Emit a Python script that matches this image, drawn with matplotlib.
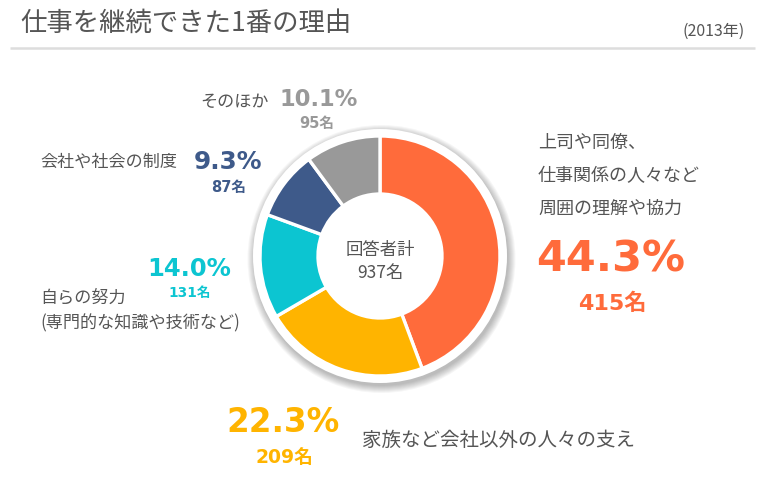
import matplotlib
matplotlib.use("Agg")
import matplotlib.pyplot as plt
from matplotlib.patches import Circle

# ---- data ----
categories = ["上司や同僚、\n仕事関係の人々など\n周囲の理解や協力",
              "家族など会社以外の人々の支え",
              "自らの努力\n(専門的な知識や技術など)",
              "会社や社会の制度",
              "そのほか"]
percents = [44.3, 22.3, 14.0, 9.3, 10.1]
counts = [415, 209, 131, 87, 95]
total = 937
title = "仕事を継続できた1番の理由"
year_label = "(2013年)"
center_label = "回答者計"

colors = ["#FF6B3B", "#FFB400", "#0CC5D1", "#3E5A8A", "#999999"]

W, H = 764, 481
fig = plt.figure(figsize=(W / 100, H / 100), dpi=100)
ax = fig.add_axes([0, 0, 1, 1])
ax.set_xlim(0, W)
ax.set_ylim(0, H)
ax.set_aspect("equal")
ax.axis("off")

def Y(y):
    return H - y

JP = ["Noto Sans CJK JP", "DejaVu Sans"]
NUM = ["DejaVu Sans", "Noto Sans CJK JP"]
TXT = "#555555"

# title and rule
ax.text(20, Y(23), title, fontsize=19, color=TXT, family=JP, va="center", ha="left")
ax.text(745, Y(31), year_label, fontsize=11.5, color=TXT, family=JP, va="center", ha="right")
ax.plot([10, 755], [Y(49), Y(49)], color="#DDDDDD", lw=1.8, solid_capstyle="butt")

# donut
cx, cy = 380, Y(257)
for i in range(8):
    ax.add_patch(Circle((cx + 1.5, cy - 3), 127 + i, facecolor="#000000",
                        alpha=0.035, edgecolor="none", zorder=1))
ax.add_patch(Circle((cx, cy), 127, facecolor="white", edgecolor="none", zorder=2))
wedges, _ = ax.pie(percents, colors=colors, startangle=90, counterclock=False,
                   radius=120, center=(cx, cy), frame=True,
                   wedgeprops=dict(width=58, edgecolor="white", linewidth=2.4))
for w in wedges:
    w.set_zorder(3)
ax.set_xlim(0, W)
ax.set_ylim(0, H)
ax.axis("off")

ax.text(cx, Y(250), center_label, fontsize=12.5, color=TXT, family=JP, ha="center", va="center", zorder=5)
ax.text(cx, Y(273), f"{total}名", fontsize=12.5, color=TXT, family=JP, ha="center", va="center", zorder=5)

# ---- labels ----
# 0: right (orange)
for k, line in enumerate(categories[0].split("\n")):
    ax.text(538, Y(143 + 33 * k), line, fontsize=13, color=TXT, family=JP, ha="left", va="center")
ax.text(536, Y(260), f"{percents[0]:.1f}%", fontsize=31, fontweight="bold", color=colors[0],
        family=NUM, ha="left", va="center")
ax.text(612, Y(303), f"{counts[0]}名", fontsize=16, fontweight="bold", color=colors[0],
        family=NUM, ha="center", va="center")

# 1: bottom (yellow)
ax.text(226, Y(423), f"{percents[1]:.1f}%", fontsize=23.5, fontweight="bold", color=colors[1],
        family=NUM, ha="left", va="center")
ax.text(284, Y(457), f"{counts[1]}名", fontsize=13.5, fontweight="bold", color=colors[1],
        family=NUM, ha="center", va="center")
ax.text(362, Y(440), categories[1], fontsize=14, color=TXT, family=JP, ha="left", va="center")

# 2: left (cyan)
l2 = categories[2].split("\n")
ax.text(40, Y(297), l2[0], fontsize=12.3, color=TXT, family=JP, ha="left", va="center")
ax.text(40, Y(323), l2[1], fontsize=12.3, color=TXT, family=JP, ha="left", va="center")
ax.text(147, Y(269), f"{percents[2]:.1f}%", fontsize=17.5, fontweight="bold", color=colors[2],
        family=NUM, ha="left", va="center")
ax.text(190, Y(293), f"{counts[2]}名", fontsize=9.8, fontweight="bold", color=colors[2],
        family=NUM, ha="center", va="center")

# 3: navy
ax.text(40, Y(162), categories[3], fontsize=12.3, color=TXT, family=JP, ha="left", va="center")
ax.text(194, Y(162), f"{percents[3]:.1f}%", fontsize=17.8, fontweight="bold", color=colors[3],
        family=NUM, ha="left", va="center")
ax.text(229, Y(187), f"{counts[3]}名", fontsize=10.5, fontweight="bold", color=colors[3],
        family=NUM, ha="center", va="center")

# 4: gray
ax.text(200, Y(102), categories[4], fontsize=12.3, color=TXT, family=JP, ha="left", va="center")
ax.text(279, Y(99), f"{percents[4]:.1f}%", fontsize=16.3, fontweight="bold", color=colors[4],
        family=NUM, ha="left", va="center")
ax.text(317, Y(123), f"{counts[4]}名", fontsize=10.5, fontweight="bold", color=colors[4],
        family=NUM, ha="center", va="center")

fig.savefig("out.png", dpi=100, facecolor="white")
